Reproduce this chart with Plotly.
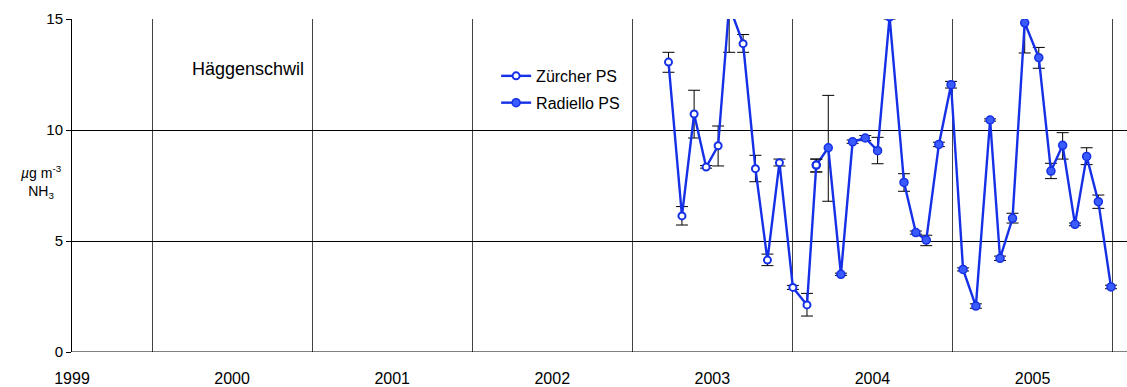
import plotly.graph_objects as go

# Zürcher passive sampler
z_x = [2003.226, 2003.310, 2003.386, 2003.461, 2003.536, 2003.605, 2003.692,
       2003.769, 2003.844, 2003.919, 2004.003, 2004.091, 2004.149]
z_y = [13.06, 6.13, 10.72, 8.33, 9.29, 15.6, 13.89, 8.26, 4.14, 8.53, 2.91, 2.12, 8.42]
z_hi = [13.50, 6.55, 11.79, 8.40, 10.18, 16.5, 14.30, 8.86, 4.41, 8.69, 3.00, 2.64, 8.69]
z_lo = [12.60, 5.72, 9.64, 8.28, 8.38, 13.50, 13.50, 7.67, 3.89, 8.38, 2.82, 1.62, 8.11]

# Radiello passive sampler (first point joins the Zürcher series)
r_x = [2004.149, 2004.224, 2004.303, 2004.376, 2004.455, 2004.532, 2004.607, 2004.697,
       2004.771, 2004.836, 2004.915, 2004.991, 2005.066, 2005.146, 2005.235, 2005.297,
       2005.375, 2005.451, 2005.539, 2005.615, 2005.688, 2005.765, 2005.838, 2005.911,
       2005.990]
r_y = [8.42, 9.20, 3.50, 9.47, 9.64, 9.07, 15.1, 7.64, 5.38, 5.04, 9.35, 12.04, 3.72,
       2.07, 10.45, 4.22, 6.02, 14.83, 13.26, 8.15, 9.31, 5.75, 8.81, 6.77, 2.93]
r_hi = [8.69, 11.56, 3.55, 9.55, 9.75, 9.67, 15.2, 8.03, 5.45, 5.26, 9.45, 12.19, 3.79,
        2.17, 10.50, 4.32, 6.25, 15.20, 13.72, 8.50, 9.88, 5.81, 9.20, 7.07, 3.01]
r_lo = [8.11, 6.79, 3.45, 9.40, 9.52, 8.48, 15.0, 7.24, 5.31, 4.79, 9.25, 11.89, 3.65,
        1.97, 10.40, 4.12, 5.81, 13.47, 12.78, 7.81, 8.69, 5.69, 8.44, 6.47, 2.85]

year_labels = ["1999", "2000", "2001", "2002", "2003", "2004", "2005"]
year_pos = [1999.5, 2000.5, 2001.5, 2002.5, 2003.5, 2004.5, 2005.5]
y_ticks = [0, 5, 10, 15]

BLUE = "#1530e6"
FONT = "Liberation Sans, Arial, Helvetica, sans-serif"


def err(y, hi, lo):
    return dict(type="data", symmetric=False,
                array=[h - v for h, v in zip(hi, y)],
                arrayminus=[v - l for v, l in zip(y, lo)],
                color="black", thickness=1, width=6)


fig = go.Figure()
fig.add_trace(go.Scatter(
    x=r_x, y=r_y, mode="lines+markers", name="Radiello PS",
    legendgroup="r", legendrank=2,
    line=dict(color=BLUE, width=2.4),
    marker=dict(symbol="circle", size=8, color="#3a5cff", line=dict(color=BLUE, width=1.5)),
    error_y=err(r_y, r_hi, r_lo)))
fig.add_trace(go.Scatter(
    x=z_x, y=z_y, mode="lines+markers", name="Zürcher PS",
    legendgroup="z", legendrank=1,
    line=dict(color=BLUE, width=2.4),
    marker=dict(symbol="circle", size=7, color="white", line=dict(color=BLUE, width=2)),
    error_y=err(z_y, z_hi, z_lo)))

fig.add_annotation(text="Häggenschwil", xref="x", yref="y", x=2000.24, y=12.75,
                   xanchor="left", yanchor="middle", showarrow=False,
                   font=dict(size=18, color="black", family=FONT))
fig.add_annotation(text="<i>µ</i>g m<sup>-3</sup><br>NH<sub>3</sub>", xref="paper", yref="paper",
                   x=-0.029, y=0.51, xanchor="center", yanchor="middle", showarrow=False,
                   font=dict(size=14, color="black", family=FONT), align="center")

fig.update_layout(
    width=1127, height=387,
    margin=dict(l=72, r=0, t=19, b=35),
    paper_bgcolor="white", plot_bgcolor="white",
    font=dict(family=FONT, size=15, color="black"),
    showlegend=True,
    legend=dict(x=0.402, y=0.88, xanchor="left", yanchor="top",
                bgcolor="rgba(0,0,0,0)", traceorder="grouped", tracegroupgap=3,
                font=dict(size=16, family=FONT)),
    xaxis=dict(range=[1999.5, 2006.09], tickvals=year_pos, ticktext=year_labels,
               showgrid=False, zeroline=False, showline=False, ticks="",
               tickfont=dict(size=16), ticklabelstandoff=15,
               minor=dict(tick0=2000, dtick=1, showgrid=True, gridcolor="#444", gridwidth=1)),
    yaxis=dict(range=[0, 15], tickvals=y_ticks, showgrid=True, gridcolor="black", gridwidth=1,
               zeroline=False, showline=True, linecolor="black", linewidth=1,
               ticks="outside", ticklen=5, tickcolor="black", tickfont=dict(size=15)),
)
fig.add_hline(y=0, line=dict(color="black", width=1))

fig.write_html("out.html")
